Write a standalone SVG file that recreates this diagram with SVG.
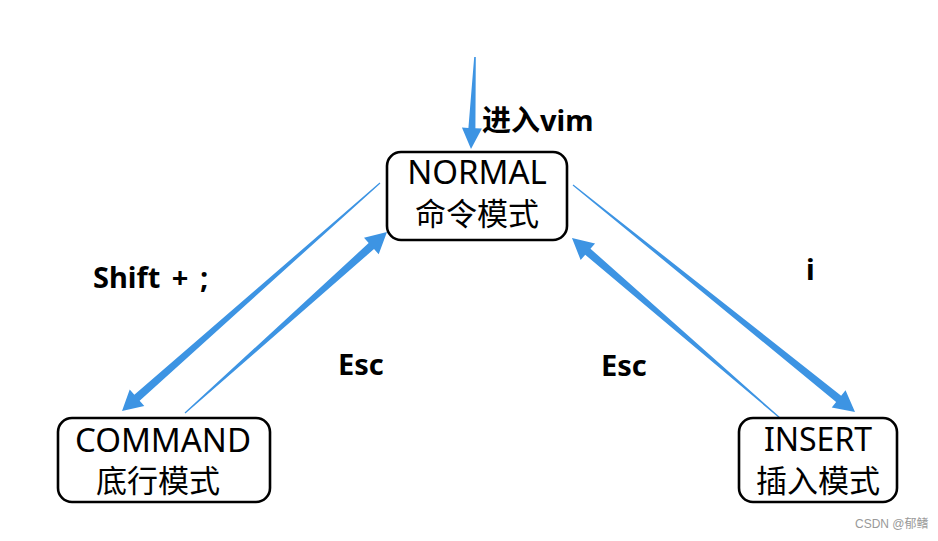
<svg xmlns="http://www.w3.org/2000/svg" width="938" height="541" viewBox="0 0 938 541">
  <style>
    .box { fill: #ffffff; stroke: #000000; stroke-width: 2.6; }
    .t { font-family: "Noto Sans", "Noto Sans CJK SC", sans-serif; fill: #000; text-anchor: middle; }
    .lbl { font-family: "Noto Sans", "Noto Sans CJK SC", sans-serif; font-weight: bold; fill: #000; }
    .arrow { fill: #3d94e3; stroke: none; }
  </style>
  <rect width="938" height="541" fill="#ffffff"/>
  <g id="connectors">
    <g id="enter" transform="translate(475,57) rotate(92.49)">
      <polygon class="arrow" points="0,-0.8 71.1,-3.5 71.1,-10 92.1,0 71.1,10 71.1,3.5 0,0.8"/>
    </g>
    <g id="normal-to-command" transform="translate(380,183) rotate(138.53)">
      <polygon class="arrow" points="0,-0.6 324.3,-4 324.3,-11 344.3,0 324.3,11 324.3,4 0,0.6"/>
    </g>
    <g id="command-to-normal" transform="translate(185,413) rotate(-41.86)">
      <polygon class="arrow" points="0,-0.6 250.2,-4 250.2,-11 271.2,0 250.2,11 250.2,4 0,0.6"/>
    </g>
    <g id="normal-to-insert" transform="translate(573,185) rotate(38.83)">
      <polygon class="arrow" points="0,-0.6 341,-4 341,-11 362,0 341,11 341,4 0,0.6"/>
    </g>
    <g id="insert-to-normal" transform="translate(780,418) rotate(-139.13)">
      <polygon class="arrow" points="0,-0.6 254.1,-4 254.1,-11 275.1,0 254.1,11 254.1,4 0,0.6"/>
    </g>
  </g>
  <g id="labels">
    <text class="lbl" x="482" y="131" font-size="29">进入vim</text>
    <text class="lbl" x="93" y="288" font-size="29" word-spacing="4">Shift + ;</text>
    <text class="lbl" x="338" y="375" font-size="29">Esc</text>
    <text class="lbl" x="601" y="376" font-size="29">Esc</text>
    <text class="lbl" x="806" y="280" font-size="29">i</text>
  </g>
  <g id="normal">
    <rect class="box" x="387" y="152" width="180" height="88" rx="14"/>
    <text class="t" x="477" y="184" font-size="33">NORMAL</text>
    <text class="t" x="477" y="225" font-size="31">命令模式</text>
  </g>
  <g id="command">
    <rect class="box" x="58" y="418" width="212" height="84" rx="14"/>
    <text class="t" x="163" y="452" font-size="33">COMMAND</text>
    <text class="t" x="158" y="492" font-size="31">底行模式</text>
  </g>
  <g id="insert">
    <rect class="box" x="739" y="418" width="158" height="84" rx="14"/>
    <text class="t" x="818" y="451" font-size="32">INSERT</text>
    <text class="t" x="818" y="492" font-size="31">插入模式</text>
  </g>
  <text x="855" y="528" font-family="'Liberation Sans', 'Noto Sans CJK SC', sans-serif" font-size="12" fill="#999999">CSDN @郁鳍</text>
</svg>
